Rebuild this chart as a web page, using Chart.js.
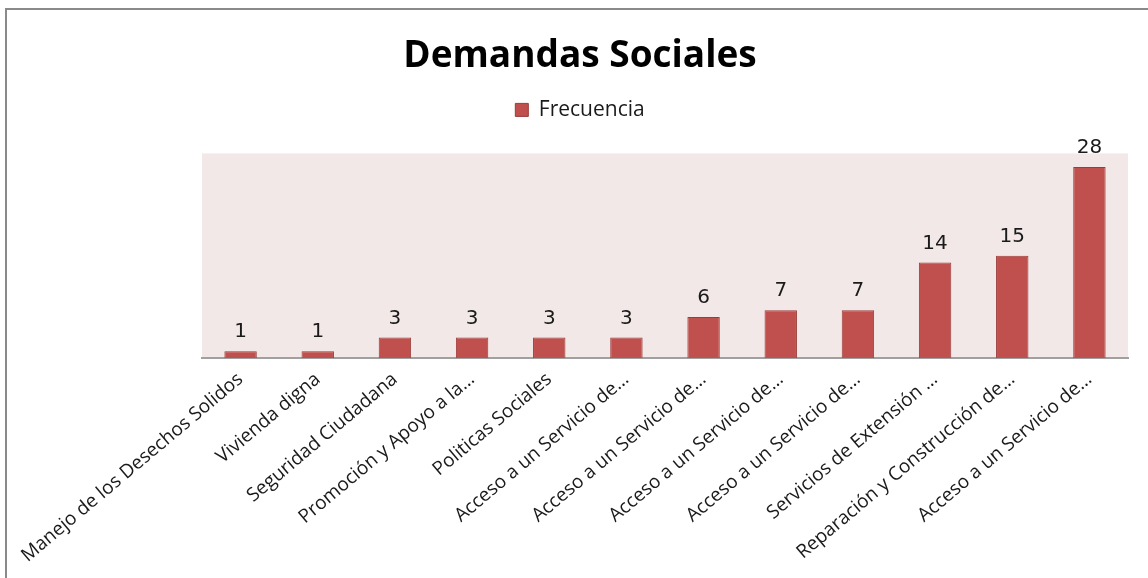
<!DOCTYPE html>
<html>
<head>
<meta charset="utf-8">
<script src="https://cdn.jsdelivr.net/npm/chart.js@4.4.1/dist/chart.umd.min.js"></script>
<style>
    html, body { margin: 0; padding: 0; background: #fff; overflow: hidden; }
    #wrap { position: relative; width: 1148px; height: 578px; }
    #frame {
        position: absolute; left: 5px; top: 8px; width: 1200px; height: 700px;
        border-left: 2px solid #8a8a8a; border-top: 2px solid #8a8a8a;
        pointer-events: none;
    }
</style>
</head>
<body>
<div id="wrap">
    <canvas id="chart" width="1148" height="578"></canvas>
    <div id="frame"></div>
</div>
<script>
const categories = [
    'Manejo de los Desechos Solidos',
    'Vivienda digna',
    'Seguridad Ciudadana',
    'Promoción y Apoyo a la…',
    'Politicas Sociales',
    'Acceso a un Servicio de…',
    'Acceso a un Servicio de…',
    'Acceso a un Servicio de…',
    'Acceso a un Servicio de…',
    'Servicios de Extensión …',
    'Reparación y Construcción de…',
    'Acceso a un Servicio de…',
];
const frecuencia = [1, 1, 3, 3, 3, 3, 6, 7, 7, 14, 15, 28];
const yMax = 30;

const textDark = '#1a1a1a';

// pink plot background
const plotBackground = {
    id: 'plotBackground',
    beforeDraw(chart) {
        const { ctx, chartArea: a } = chart;
        ctx.save();
        ctx.fillStyle = '#f2e8e8';
        ctx.fillRect(a.left, a.top, a.right - a.left, a.bottom - a.top);
        ctx.restore();
    },
};

// extra space under the legend
const legendGap = {
    id: 'legendGap',
    beforeInit(chart) {
        const fit = chart.legend.fit;
        chart.legend.fit = function () {
            fit.call(this);
            this.height += 23;
        };
    },
};

// value labels above bars
const valueLabels = {
    id: 'valueLabels',
    afterDatasetsDraw(chart) {
        const { ctx } = chart;
        const meta = chart.getDatasetMeta(0);
        ctx.save();
        ctx.font = '20px "DejaVu Sans"';
        ctx.fillStyle = textDark;
        ctx.textAlign = 'center';
        ctx.textBaseline = 'alphabetic';
        meta.data.forEach((bar, i) => {
            ctx.fillText(String(frecuencia[i]), bar.x, bar.y - 14);
        });
        ctx.restore();
    },
};

new Chart(document.getElementById('chart'), {
    type: 'bar',
    data: {
        labels: categories,
        datasets: [{
            label: 'Frecuencia',
            data: frecuencia,
            backgroundColor: '#c0504d',
            borderColor: '#9b3c3a',
            borderWidth: 1,
            categoryPercentage: 1,
            barPercentage: 0.42,
        }],
    },
    options: {
        responsive: false,
        animation: false,
        layout: { padding: { left: 32, right: 20, top: 0, bottom: 2 } },
        scales: {
            x: {
                grid: { display: false },
                border: { display: true, color: '#a0a0a0', width: 2 },
                ticks: {
                    color: textDark,
                    font: { family: '"Open Sans"', size: 19 },
                    maxRotation: 40,
                    minRotation: 40,
                    autoSkip: false,
                    padding: 2,
                },
                afterFit(scale) { scale.height = 218; },
            },
            y: {
                min: 0,
                max: yMax,
                grid: { display: false },
                border: { display: false },
                ticks: { display: false },
                afterFit(scale) { scale.width = 170; },
            },
        },
        plugins: {
            title: {
                display: true,
                text: 'Demandas Sociales',
                color: '#000',
                font: { family: '"Open Sans"', size: 37, weight: 'bold' },
                padding: { top: 34, bottom: 11 },
            },
            legend: {
                position: 'top',
                labels: {
                    color: textDark,
                    font: { family: '"Open Sans"', size: 21 },
                    boxWidth: 13,
                    boxHeight: 13,
                    padding: 10,
                },
            },
            tooltip: { enabled: false },
        },
    },
    plugins: [plotBackground, legendGap, valueLabels],
});
</script>
</body>
</html>
